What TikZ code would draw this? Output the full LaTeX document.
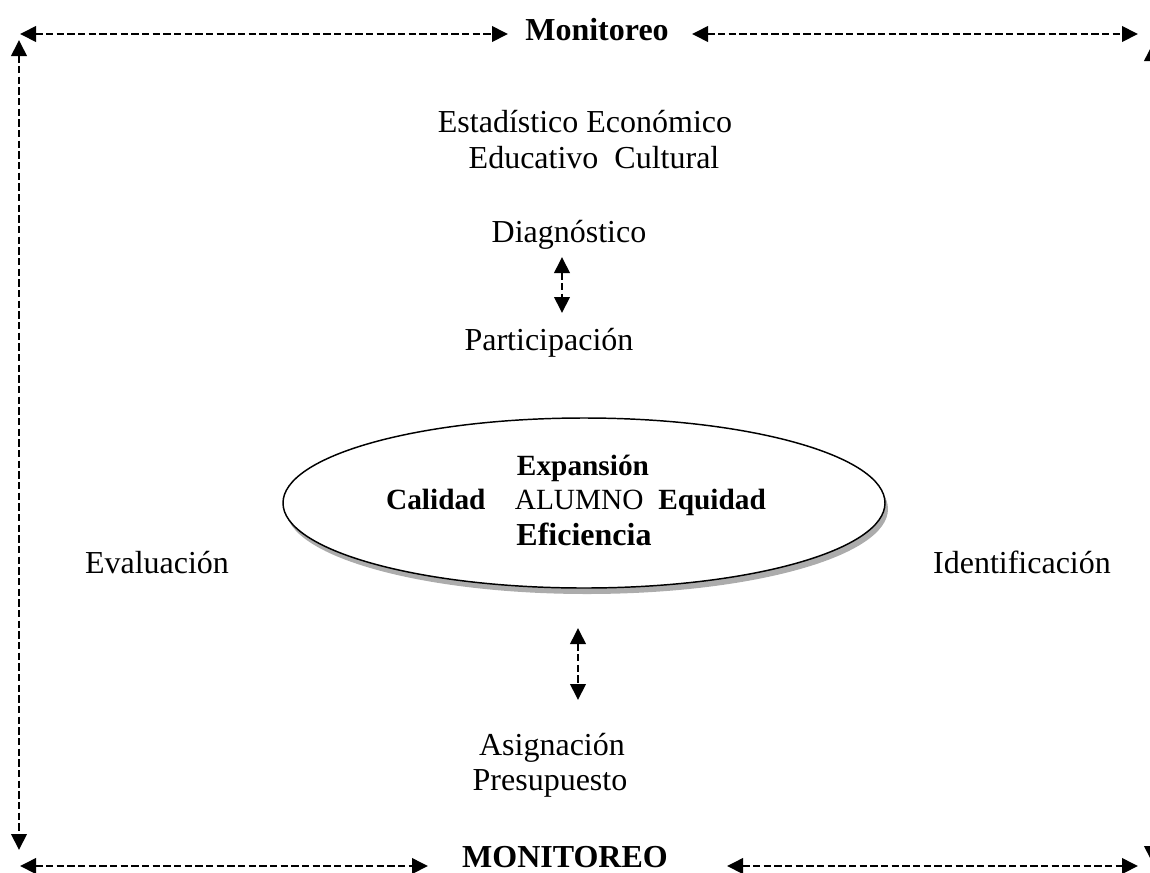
\documentclass[tikz,border=0pt]{standalone}
\usepackage{fontspec}
\setmainfont{Liberation Serif}
\usetikzlibrary{arrows.meta,shapes.geometric}
\begin{document}
\begin{tikzpicture}[x=0.75pt,y=-0.75pt,
  lbl/.style={font=\fontsize{24}{28}\selectfont, inner sep=0pt, anchor=base},
  inl/.style={font=\fontsize{22}{26}\selectfont, inner sep=0pt, anchor=base},
  dar/.style={line width=2pt, dash pattern=on 5.5pt off 2.5pt,
    {Triangle[length=12pt,width=11.5pt]}-{Triangle[length=12pt,width=11.5pt]}},
  oval/.style={ellipse, minimum width=451.5pt, minimum height=127.5pt, inner sep=0pt}
  ]
\useasboundingbox (0,0) rectangle (1150,872);
% frame endpoints
\coordinate (t1) at (20,34);  \coordinate (t2) at (508,34);
\coordinate (t3) at (692,34); \coordinate (t4) at (1138,34);
\coordinate (b1) at (20,866); \coordinate (b2) at (428,866);
\coordinate (b3) at (727,866); \coordinate (b4) at (1138,866);
\coordinate (l1) at (19,40);  \coordinate (l2) at (19,850);
\coordinate (r1) at (1152,45); \coordinate (r2) at (1152,862);
\node[lbl, font=\fontsize{24}{28}\selectfont\bfseries] (mon) at (597,40) {Monitoreo};
\node[lbl, font=\fontsize{24}{28}\selectfont\bfseries] (MON) at (565,867) {MONITOREO};
\draw[dar] (t1) -- (t2);
\draw[dar] (t3) -- (t4);
\draw[dar] (b1) -- (b2);
\draw[dar] (b3) -- (b4);
\draw[dar] (l1) -- (l2);
\draw[dar] (r1) -- (r2);
% upper texts
\node[lbl] (est) at (585,132) {Estadístico Económico};
\node[lbl] (edu) at (594,168) {Educativo\ \ Cultural};
\node[lbl] (diag) at (569,242) {Diagnóstico};
\node[lbl] (part) at (549,350) {Participación};
\coordinate (a1) at (562,257); \coordinate (a2) at (562,313);
\draw[dar] (a1) -- (a2);
% ellipse
\node[oval, fill=gray!65] (ellsh) at (587,509) {};
\node[oval, draw, line width=1.1pt, fill=white] (ell) at (584,503) {};
\node[inl, font=\fontsize{22}{26}\selectfont\bfseries] (exp) at (583,475) {Expansión};
\node[inl] (row) at (576,509) {\textbf{Calidad}\quad ALUMNO\ \ \textbf{Equidad}};
\node[lbl, font=\fontsize{24}{28}\selectfont\bfseries] (efi) at (584,545) {Eficiencia};
% sides
\node[lbl] (eva) at (157,573) {Evaluación};
\node[lbl] (ide) at (1022,573) {Identificación};
% lower
\coordinate (c1) at (578,628); \coordinate (c2) at (578,700);
\draw[dar] (c1) -- (c2);
\node[lbl] (asi) at (552,755) {Asignación};
\node[lbl] (pre) at (550,790) {Presupuesto};
\end{tikzpicture}
\end{document}
